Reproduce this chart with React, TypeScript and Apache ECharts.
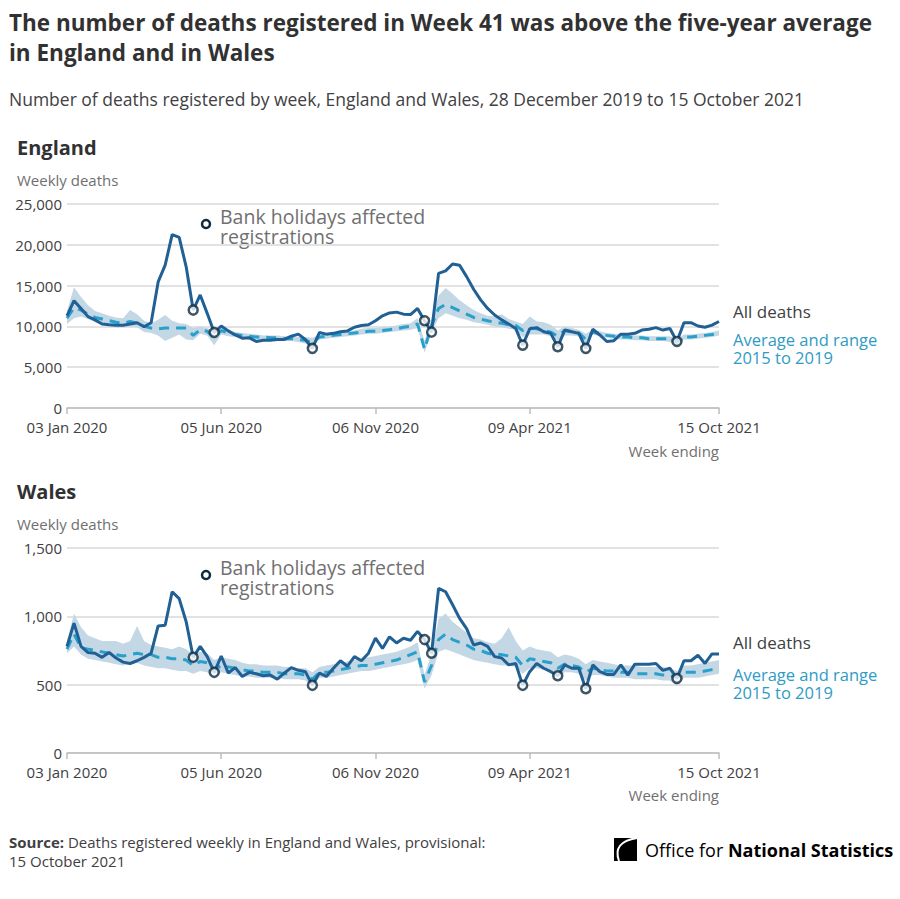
import React, { useEffect, useRef } from "react";
import * as echarts from "echarts";

// ---- categories: week ending dates (03 Jan 2020 .. 15 Oct 2021, 94 weeks)
const START = Date.UTC(2020, 0, 3);
const MONTHS = ["Jan","Feb","Mar","Apr","May","Jun","Jul","Aug","Sep","Oct","Nov","Dec"];
const weeks: string[] = [];
for (let i = 0; i < 94; i++) {
  const d = new Date(START + i * 7 * 86400000);
  weeks.push(String(d.getUTCDate()).padStart(2, "0") + " " + MONTHS[d.getUTCMonth()] + " " + d.getUTCFullYear());
}
const tickLabels = ["03 Jan 2020", "05 Jun 2020", "06 Nov 2020", "09 Apr 2021", "15 Oct 2021"];
const bankHolidayWeeks = [18, 21, 35, 51, 52, 65, 70, 74, 87];

// ---- England
const engAll = [11300,13150,12200,11200,10800,10300,10200,10150,10150,10300,10450,9950,10450,15450,17500,21250,20900,17300,12000,13850,11600,9250,10050,9450,8950,8550,8600,8150,8300,8300,8400,8400,8800,9050,8400,7300,9250,9050,9150,9350,9450,9900,10100,10200,10700,11300,11650,11750,11500,11450,12200,10700,9300,16500,16800,17650,17500,16100,14550,13250,12200,11400,10800,10300,9750,7700,9700,9850,9350,9150,7500,9550,9350,9150,7300,9650,8950,8150,8250,9050,9050,9150,9550,9650,9850,9550,9750,8150,10450,10450,10050,9900,10150,10600];
const engAvg = [11000,12300,12000,11500,11100,10900,10700,10500,10400,10600,10400,10000,9800,9700,9800,9800,9800,9800,8900,9600,9400,8600,9500,9200,9000,8900,8800,8700,8700,8600,8600,8500,8500,8400,8300,8000,8700,8800,8900,9000,9100,9200,9300,9400,9400,9500,9600,9700,9900,10000,10300,7200,10100,12200,12700,12300,11900,11500,11100,10900,10700,10500,10400,10200,10100,9500,9800,9700,9500,9300,8800,9500,9300,9200,8400,9300,9100,8900,8800,8700,8700,8600,8600,8500,8500,8500,8500,8000,8700,8700,8800,8900,9000,9200];
const engLow = [10300,11000,11200,10900,10500,10300,10100,9900,9900,10000,9900,9300,9200,8900,8200,8600,9000,8400,8300,9100,8900,7700,9000,8800,8700,8600,8500,8400,8400,8300,8300,8200,8200,8100,7900,7500,8400,8500,8600,8700,8800,8900,9000,9100,9100,9200,9300,9400,9500,9600,9800,6800,9300,11000,11600,11300,11000,10800,10500,10400,10200,10000,9900,9700,9600,8700,9000,9000,9000,8800,8200,8900,8900,8800,7900,9000,8800,8600,8500,8400,8400,8300,8300,8200,8200,8200,8100,7600,8400,8400,8500,8600,8700,8900];
const engHigh = [11900,14800,13600,12600,11900,11600,11300,11100,11000,12000,11500,10700,10400,10800,11400,10700,10400,10300,9800,10000,9800,9400,9900,9500,9300,9200,9100,9000,8900,8900,8900,8800,8800,8700,8700,8600,9000,9100,9200,9300,9400,9500,9700,9800,9800,9900,10000,10100,10300,10400,11000,8200,11000,13800,14700,14000,13200,12600,12000,11600,11300,11200,11500,10900,10600,10300,11200,10600,10500,10200,9500,10000,9800,9600,9100,9600,9400,9200,9100,9000,9000,8900,8900,8800,8800,8800,8800,8500,9000,9000,9100,9200,9300,9500];
const engTicks = [0, 5000, 10000, 15000, 20000, 25000];

// ---- Wales
const walAll = [780,950,780,735,730,700,735,695,665,655,675,700,730,930,935,1180,1130,960,700,780,705,590,710,585,625,560,590,580,565,570,540,585,625,605,595,495,585,560,620,675,635,705,675,730,840,765,850,805,840,825,890,830,730,1205,1180,1085,985,910,790,805,780,705,695,645,655,495,595,655,620,595,565,645,620,620,470,645,595,575,575,645,570,650,650,650,655,605,620,545,675,675,715,655,725,725];
const walAvg = [760,870,770,760,750,740,730,720,710,720,730,720,720,700,700,690,690,680,640,670,660,610,640,630,620,610,600,600,590,590,590,580,580,580,570,540,590,590,600,610,620,630,640,640,650,660,670,680,700,720,740,520,640,830,870,830,810,790,760,750,730,720,720,710,700,640,690,680,670,660,620,650,640,630,590,620,610,600,600,590,590,580,580,580,580,570,570,550,590,590,590,600,610,620];
const walLow = [730,780,720,690,680,670,660,650,640,650,660,640,630,620,620,610,600,600,580,600,590,550,590,580,570,560,560,550,550,550,550,540,540,540,530,490,550,550,560,570,580,590,600,600,610,620,630,640,650,660,680,470,570,740,760,740,720,700,680,670,660,650,640,640,630,580,620,620,610,600,560,590,590,580,530,570,570,560,550,550,550,540,540,540,540,530,530,490,550,550,550,560,570,580];
const walHigh = [820,1020,920,860,840,820,820,820,800,820,930,820,790,780,770,760,780,760,720,740,730,680,700,690,680,660,650,650,640,640,640,630,630,620,620,590,630,640,650,660,670,680,690,700,710,720,730,740,760,780,810,570,730,980,1020,960,920,880,840,830,810,800,840,920,820,750,780,760,750,740,700,720,710,690,650,680,670,660,650,640,640,640,630,630,630,630,620,600,640,640,650,660,670,680];
const walTicks = [0, 500, 1000, 1500];

const FONT = "'Open Sans', 'Noto Sans', sans-serif";
const DARK = "#414042";
const GREY = "#707071";
const LINE_ALL = "#206095";
const LINE_AVG = "#27a0cc";
const LEGEND_AVG = "#2e9bc4";
const BAND = "#c3d7e5";

function buildPanel(gi: number, all: number[], avg: number[], low: number[], high: number[]) {
  const diff = high.map((h, i) => h - low[i]);
  const stack = "band" + gi;
  return [
    { type: "line", xAxisIndex: gi, yAxisIndex: gi, data: low, stack, symbol: "none", silent: true,
      lineStyle: { width: 0, opacity: 0 }, z: 1 },
    { type: "line", xAxisIndex: gi, yAxisIndex: gi, data: diff, stack, symbol: "none", silent: true,
      lineStyle: { width: 0, opacity: 0 }, areaStyle: { color: BAND, opacity: 1 }, z: 1 },
    { type: "line", xAxisIndex: gi, yAxisIndex: gi, data: avg, symbol: "none", silent: true,
      lineStyle: { color: LINE_AVG, width: 3, type: [10, 7] }, z: 2 },
    { type: "line", xAxisIndex: gi, yAxisIndex: gi, data: all, symbol: "none", silent: true,
      lineStyle: { color: LINE_ALL, width: 3 }, z: 3 },
    { type: "scatter", xAxisIndex: gi, yAxisIndex: gi, silent: true, symbol: "circle", symbolSize: 9,
      data: bankHolidayWeeks.map((i) => [i, all[i]]),
      itemStyle: { color: "#ffffff", borderColor: "#0d2a3e", borderWidth: 2.5 }, z: 4 },
  ];
}

function xAxisFor(gi: number) {
  const show = (i: number) => tickLabels.includes(weeks[i]);
  return {
    type: "category", gridIndex: gi, data: weeks, boundaryGap: false,
    axisLine: { lineStyle: { color: "#bdbdbd", width: 1.5 } },
    axisTick: { show: true, interval: (i: number) => show(i), length: 6, lineStyle: { color: "#bdbdbd", width: 1.5 } },
    axisLabel: { interval: (i: number) => show(i), color: DARK, fontSize: 15, fontFamily: FONT, margin: 11 },
    splitLine: { show: false },
  };
}

function yAxisFor(gi: number, ticks: number[]) {
  return {
    type: "value", gridIndex: gi, min: ticks[0], max: ticks[ticks.length - 1], interval: ticks[1] - ticks[0],
    axisLine: { show: false }, axisTick: { show: false },
    axisLabel: { color: DARK, fontSize: 15, fontFamily: FONT, margin: 5,
      formatter: (v: number) => v.toLocaleString("en-GB") },
    splitLine: { lineStyle: { color: "#d9d9d9", width: 1.5 } },
  };
}

function txt(x: number, y: number, text: string, size: number, color: string, weight = "normal", align = "left", lineHeight?: number) {
  const style: any = { text, fill: color, fontSize: size, fontWeight: weight, fontFamily: FONT, textAlign: align, textVerticalAlign: "middle" };
  if (lineHeight) style.lineHeight = lineHeight;
  return { type: "text", x, y, silent: true, style };
}

function panelGraphics(topOff: number, title: string, legendY: number, allY: number, avgY: number, bankY: number) {
  return [
    txt(17, topOff, title, 20, "#323132", "bold"),
    txt(17, topOff + 33, "Weekly deaths", 15, GREY),
    { type: "circle", shape: { cx: 206, cy: bankY, r: 4 }, silent: true,
      style: { fill: "#fff", stroke: "#0d2a3e", lineWidth: 2.5 } },
    txt(220, bankY + 2, "Bank holidays affected\nregistrations", 19.5, GREY, "normal", "left", 20),
    txt(733, allY, "All deaths", 17, DARK),
    txt(733, avgY + 8, "Average and range\n2015 to 2019", 16.5, LEGEND_AVG, "normal", "left", 18),
    txt(719, legendY, "Week ending", 15, GREY, "normal", "right"),
  ];
}

export default function App() {
  const ref = useRef<HTMLDivElement>(null);
  useEffect(() => {
    if (!ref.current) return;
    const chart = echarts.init(ref.current, null, { renderer: "svg" });
    chart.setOption({
      animation: false,
      backgroundColor: "#ffffff",
      grid: [
        { left: 67, top: 204, width: 652, height: 204 },
        { left: 67, top: 548, width: 652, height: 205 },
      ],
      xAxis: [xAxisFor(0), xAxisFor(1)],
      yAxis: [yAxisFor(0, engTicks), yAxisFor(1, walTicks)],
      series: [
        ...buildPanel(0, engAll, engAvg, engLow, engHigh),
        ...buildPanel(1, walAll, walAvg, walLow, walHigh),
      ],
      graphic: [
        txt(9, 22, "The number of deaths registered in Week 41 was above the five-year average", 22.5, "#323132", "bold"),
        txt(9, 52, "in England and in Wales", 22.5, "#323132", "bold"),
        txt(9, 99, "Number of deaths registered by week, England and Wales, 28 December 2019 to 15 October 2021", 17.5, DARK),
        ...panelGraphics(147, "England", 451, 311, 340, 224),
        ...panelGraphics(491, "Wales", 795, 642, 675, 575),
        { type: "text", x: 9, y: 842, silent: true,
          style: { text: "{b|Source:} Deaths registered weekly in England and Wales, provisional:",
            fill: DARK, fontSize: 15, fontFamily: FONT, textVerticalAlign: "middle",
            rich: { b: { fontWeight: "bold", fontSize: 15, fontFamily: FONT, fill: DARK } } } },
        txt(9, 861, "15 October 2021", 15, DARK),
        { type: "rect", shape: { x: 614, y: 838, width: 23, height: 23 }, silent: true, style: { fill: "#000" } },
        { type: "bezierCurve", silent: true,
          shape: { x1: 637, y1: 838, x2: 619, y2: 861, cpx1: 612, cpy1: 842 },
          style: { stroke: "#fff", lineWidth: 2, fill: "none" } },
        { type: "text", x: 645, y: 850, silent: true,
          style: { text: "Office for {b|National Statistics}", fill: "#000", fontSize: 18,
            fontFamily: FONT, textVerticalAlign: "middle",
            rich: { b: { fontWeight: "bold", fontSize: 18, fill: "#000", fontFamily: FONT } } } },
      ],
    });
    return () => chart.dispose();
  }, []);
  return <div ref={ref} style={{ position: "absolute", left: 0, top: 0, width: 900, height: 899, background: "#fff" }} />;
}
